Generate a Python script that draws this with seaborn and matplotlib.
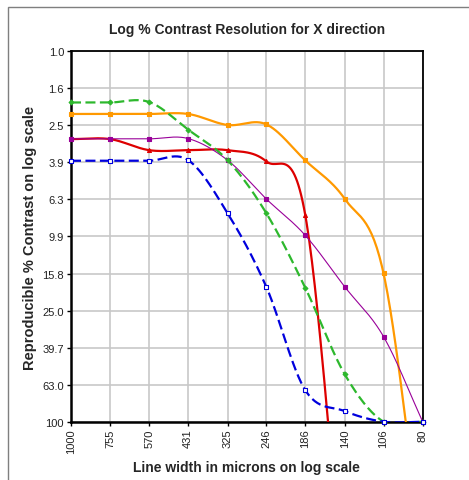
import numpy as np
import matplotlib
matplotlib.use("Agg")
import matplotlib.pyplot as plt
import seaborn as sns

# DATA ----------
# line width in microns (x axis, log scale, decreasing to the right)
widths = [1000, 755, 570, 431, 325, 246, 186, 140, 106, 80]
x_labels = ["1000", "755", "570", "431", "325", "246", "186", "140", "106", "80"]
# y axis tick labels (log scale, 1 at top, 100 at bottom)
y_labels = ["1.0", "1.6", "2.5", "3.9", "6.3", "9.9", "15.8", "25.0", "39.7", "63.0", "100"]

# reproducible % contrast per series (values past 100 run off the chart)
orange = [2.18, 2.18, 2.18, 2.18, 2.5, 2.48, 3.88, 6.27, 15.8, 520]
green = [1.89, 1.89, 1.88, 2.65, 3.87, 7.48, 18.9, 55.5, 100, 100]
red = [2.98, 2.98, 3.42, 3.42, 3.42, 3.93, 7.64, 950, np.nan, np.nan]
purple = [2.97, 2.97, 2.97, 2.96, 3.87, 6.27, 9.85, 18.7, 34.7, 100]
blue = [3.9, 3.9, 3.9, 3.87, 7.48, 18.7, 67.5, 87.7, 100, 100]


def smooth(xs, ys, n=30):
    # catmull-rom curve through the points in log/log space (like excel smoothed lines)
    u = np.log10(np.asarray(xs, float))
    v = np.log10(np.asarray(ys, float))
    ok = ~np.isnan(v)
    u, v = u[ok], v[ok]
    P = np.column_stack([u, v])
    k = len(P)
    M = np.zeros_like(P)
    for i in range(k):
        if i == 0:
            M[i] = P[1] - P[0]
        elif i == k - 1:
            M[i] = P[-1] - P[-2]
        else:
            M[i] = (P[i + 1] - P[i - 1]) / 2
    t = np.linspace(0, 1, n)[:, None]
    pts = []
    for i in range(k - 1):
        b0, b3 = P[i], P[i + 1]
        b1, b2 = b0 + M[i] / 3, b3 - M[i + 1] / 3
        seg = (1 - t) ** 3 * b0 + 3 * (1 - t) ** 2 * t * b1 + 3 * (1 - t) * t ** 2 * b2 + t ** 3 * b3
        pts.append(seg if i == 0 else seg[1:])
    pts = np.vstack(pts)
    return 10 ** pts[:, 0], 10 ** pts[:, 1]


# PLOT ----------
sns.set_style("white")
plt.rcParams['font.family'] = ['Liberation Sans', 'DejaVu Sans']

fig = plt.figure(figsize=(4.69, 4.81), dpi=100)
ax = fig.add_axes([0.1514, 0.1212, 0.7499, 0.7701])

# outer chart border (top and left visible)
fig.patches.append(plt.Rectangle((7.5 / 469, -0.1), 1.2, 1 - 8 / 481 + 0.1, transform=fig.transFigure,
                                 fill=False, edgecolor="#7f7f7f", lw=1.0))

series = [
    (orange, "#FF9900", "-", 1.6, "s", 9, "#FF9900"),
    (red, "#DD0000", "-", 1.6, "^", 8, "#DD0000"),
    (purple, "#990099", "-", 0.8, "s", 7, "#990099"),
    (green, "#2DB82D", "--", 1.6, "D", 6, "#2DB82D"),
    (blue, "#0000DD", "--", 1.6, "s", 9, "white"),
]

for vals, col, ls, lw, mk, ms, face in series:
    sx, sy = smooth(widths, vals)
    sns.lineplot(x=sx, y=sy, ax=ax, color=col, lw=lw, sort=False, estimator=None, zorder=3)
    line = ax.lines[-1]
    if ls == "--":
        line.set_dashes((4.5, 2))
    m = ~np.isnan(np.asarray(vals, float)) & (np.asarray(vals, float) <= 100)
    sns.scatterplot(x=np.asarray(widths)[m], y=np.asarray(vals, float)[m], ax=ax, marker=mk, s=ms,
                    color=face, edgecolor=col, linewidth=0.8, zorder=4, clip_on=False)

ax.set_xscale("log")
ax.set_yscale("log")
ax.set_xlim(1000, 80)
ax.set_ylim(100, 1)

ax.set_xticks(widths)
ax.set_xticklabels(x_labels, rotation=90)
ax.set_yticks([10 ** (0.2 * i) for i in range(len(y_labels))])
ax.set_yticklabels(y_labels)
ax.minorticks_off()

ax.grid(True, color="#c8c8c8", lw=1.2)
ax.set_axisbelow(True)
for s in ax.spines.values():
    s.set_color("black")
    s.set_linewidth(1.3)
ax.spines["left"].set_linewidth(1.8)
ax.spines["bottom"].set_linewidth(1.8)

ax.tick_params(axis="both", which="major", direction="out", length=3, width=1, color="black",
               labelsize=8, labelcolor="#222222", pad=2, left=True, bottom=True)

ax.set_title("Log % Contrast Resolution for X direction", fontsize=10, fontweight="bold", pad=13)
ax.set_xlabel("Line width in microns on log scale", fontsize=10, fontweight="bold", labelpad=5)
ax.set_ylabel("Reproducible % Contrast on log scale", fontsize=10.5, fontweight="bold", labelpad=4)

fig.savefig("out.png", dpi=100)
